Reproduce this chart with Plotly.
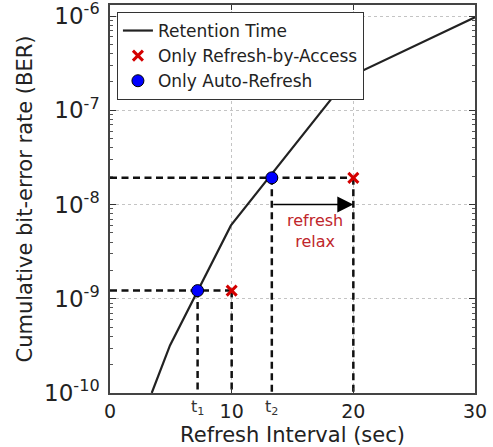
import math
import plotly.graph_objects as go

# Retention-time curve (refresh interval in sec vs cumulative BER)
retention_x = [3.43, 4.93, 9.94, 19.6, 30.0]
retention_ber = [1e-10, 3.2e-10, 6.0e-9, 2.24e-7, 9.7e-7]

# Operating points
t1 = 7.2
t2 = 13.3
ber_levels = [1.22e-9, 1.92e-8]
auto_refresh_x = [t1, t2]
access_x = [10, 20]

x_ticks = [0, 10, 20, 30]
y_ticks = [1e-10, 1e-9, 1e-8, 1e-7, 1e-6]
y_tick_text = ["10<sup>-10</sup>", "10<sup>-9</sup>", "10<sup>-8</sup>",
               "10<sup>-7</sup>", "10<sup>-6</sup>"]
x_range = [0, 30]
y_min = 1e-10
y_top = 1.31e-6
arrow_ber = 1e-8
relax_text_x = 16.85
relax_text_ber = 5.2e-9

FONT = "DejaVu Sans"
fig = go.Figure()

guide = dict(color="#111111", width=2.5, dash="7px,4.5px")
# horizontal guides from x=0 to the access points
for xa, b in zip(access_x, ber_levels):
    fig.add_trace(go.Scatter(x=[x_range[0], xa], y=[b, b], mode="lines",
                             line=guide, showlegend=False, hoverinfo="skip"))
# vertical guides down to the axis
for xs, b in zip(auto_refresh_x + access_x, ber_levels + ber_levels):
    fig.add_trace(go.Scatter(x=[xs, xs], y=[b, y_min], mode="lines",
                             line=guide, showlegend=False, hoverinfo="skip"))

fig.add_trace(go.Scatter(x=retention_x, y=retention_ber, mode="lines",
                         name="Retention Time",
                         line=dict(color="#222222", width=2.2)))
fig.add_trace(go.Scatter(x=access_x, y=ber_levels, mode="markers",
                         name="Only Refresh-by-Access",
                         marker=dict(symbol="x-thin", size=10,
                                     line=dict(color="#d40000", width=3))))
fig.add_trace(go.Scatter(x=auto_refresh_x, y=ber_levels, mode="markers",
                         name="Only Auto-Refresh",
                         marker=dict(symbol="circle", size=12, color="#0000ff",
                                     line=dict(color="#000000", width=1))))

# arrow
fig.add_annotation(x=access_x[1], y=math.log10(arrow_ber), ax=t2, ay=math.log10(arrow_ber),
                   xref="x", yref="y", axref="x", ayref="y", text="",
                   showarrow=True, arrowhead=2, arrowsize=2.0, arrowwidth=1.6,
                   arrowcolor="#000000")
fig.add_annotation(x=relax_text_x, y=math.log10(relax_text_ber), xref="x", yref="y",
                   text="refresh<br>relax", showarrow=False,
                   font=dict(family=FONT, size=16, color="#c0262b"))

# t1 / t2 tick labels
for xv, lab in [(t1, "t<sub>1</sub>"), (t2, "t<sub>2</sub>")]:
    fig.add_annotation(x=xv, y=0, xref="x", yref="paper", yanchor="top",
                       yshift=-2, text=lab, showarrow=False,
                       font=dict(family=FONT, size=16, color="#333333"))

# minor log ticks (2..9 in each decade)
minor_y = [k * 10.0 ** e for e in range(-10, -5) for k in range(2, 10)]

fig.update_layout(
    width=493, height=447,
    margin=dict(l=110, r=18, t=5, b=54),
    paper_bgcolor="white", plot_bgcolor="white",
    font=dict(family=FONT, size=19, color="#222222"),
    showlegend=True,
    legend=dict(x=0.019, y=0.982, xanchor="left", yanchor="top",
                bgcolor="white", bordercolor="#333333", borderwidth=1,
                font=dict(family=FONT, size=17, color="#222222"),
                tracegroupgap=0, itemwidth=30),
)
fig.update_xaxes(
    range=x_range, tickvals=x_ticks, ticks="inside", ticklen=5,
    tickcolor="#333333", showline=True, linecolor="#444444", linewidth=1.5,
    mirror="allticks", showgrid=True, griddash="dot", gridcolor="#c4c4c4",
    gridwidth=1, zeroline=False, automargin=False, ticklabeloverflow="allow",
    tickfont=dict(family=FONT, size=19, color="#222222"),
    title=dict(text="Refresh Interval (sec)", standoff=8,
               font=dict(family=FONT, size=21, color="#222222")),
)
fig.update_yaxes(
    type="log", range=[math.log10(y_min), math.log10(y_top)],
    tickmode="array", tickvals=y_ticks, ticktext=y_tick_text,
    ticks="inside", ticklen=6, tickcolor="#333333",
    minor=dict(ticks="inside", ticklen=3, tickcolor="#555555", tickmode="array",
               tickvals=minor_y, showgrid=False),
    showline=True, linecolor="#444444", linewidth=1.5, mirror="allticks",
    showgrid=True, griddash="dot", gridcolor="#c4c4c4", gridwidth=1, automargin=False,
    ticklabeloverflow="allow", ticklabelstandoff=4,
    tickfont=dict(family=FONT, size=23, color="#222222"),
    title=dict(text="Cumulative bit-error rate (BER)", standoff=6,
               font=dict(family=FONT, size=21, color="#222222")),
)

fig.write_html("out.html", config={"displayModeBar": False},
               post_script="document.body.style.margin='0';document.body.style.overflow='hidden';")
